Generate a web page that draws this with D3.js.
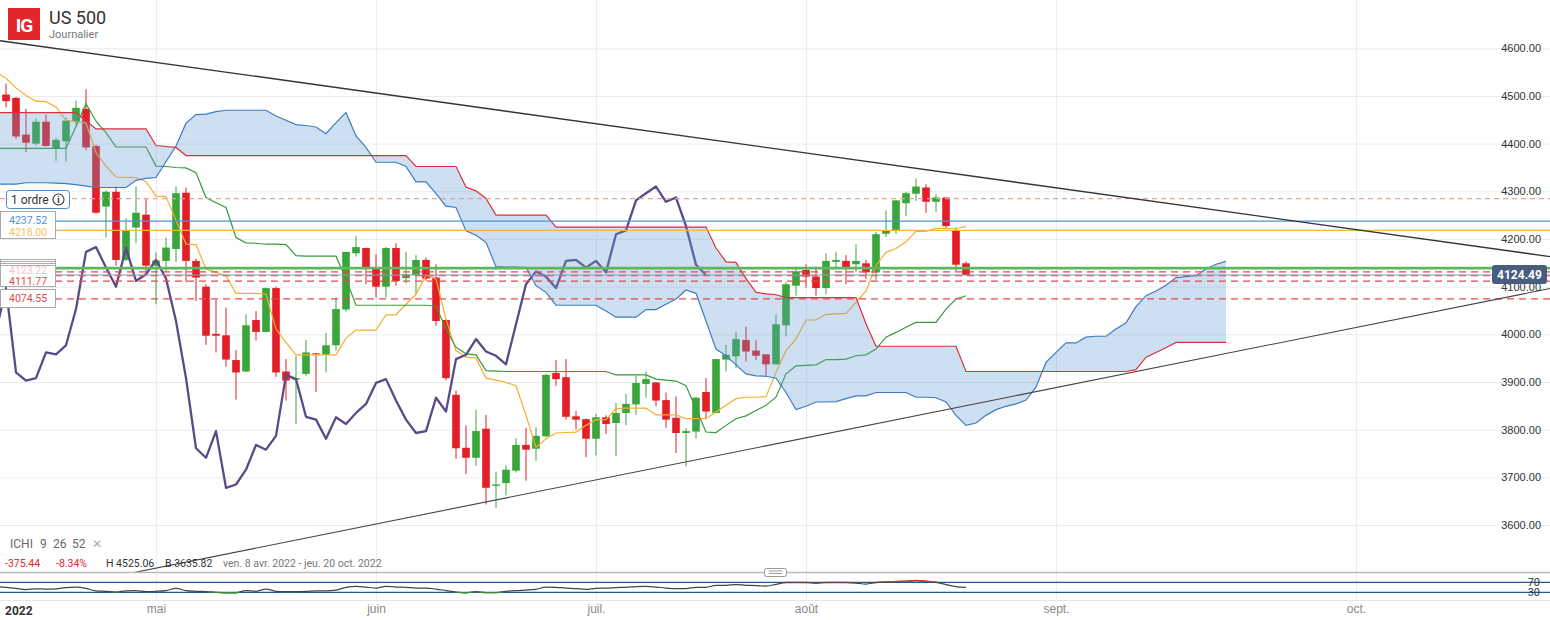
<!doctype html>
<html lang="fr">
<head>
<meta charset="UTF-8">
<title>US 500 | Journalier</title>
<style>
	body { margin: 0; background: #fff; font-family: Roboto, "Liberation Sans", Arial, sans-serif; }
	svg { display: block; }
	.grid line { stroke: #ececec; }
	.grid path { display: none; }
	.axis path, .axis line { display: none; }
	.price-axis text { fill: #333; font-size: 11px; }
	.month-axis text { fill: #888; font-size: 12px; }
</style>
</head>
<body>
<script src="https://cdn.jsdelivr.net/npm/d3@7"></script>
<script>
	// daily candles, index 0 = ven. 8 avr. 2022 (weekdays)
	var opens = [
		4503,4496,4419,4400,4446,4390,4405,4447,4473,4395,
		4268,4299,4156,4224,4251,4144,4154,4179,4297,4154,
		4100,4001,3998,3946,3922,4030,4005,4097,3922,3905,
		3917,3960,3957,3977,4052,4170,4181,4138,4100,4181,
		4118,4125,4156,4119,4030,3873,3762,3741,3802,3682,
		3688,3714,3768,3760,3786,3919,3910,3828,3822,3781,
		3826,3814,3835,3853,3896,3899,3862,3825,3793,3796,
		3879,3835,3947,3954,3988,3966,3958,3937,4019,4102,
		4135,4121,4097,4152,4154,4147,4149,4130,4211,4217,
		4275,4295,4308,4278,4287,4218,4149
	];
	var highs = [
		4526,4498,4473,4452,4461,4412,4455,4490,4514,4398,
		4302,4310,4243,4310,4285,4172,4203,4310,4308,4159,
		4105,4072,4056,3967,4042,4049,4098,4100,3948,3955,
		3988,3961,4003,4077,4173,4206,4182,4168,4183,4191,
		4173,4166,4161,4147,4031,3882,3809,3842,3831,3712,
		3725,3782,3804,3805,3917,3946,3948,3839,3823,3833,
		3830,3856,3875,3913,3922,3899,3878,3870,3803,3869,
		3908,3948,3978,4005,4016,3988,3958,4042,4110,4142,
		4147,4142,4170,4173,4166,4189,4156,4215,4260,4281,
		4299,4327,4315,4294,4287,4224,4153
	];
	var lows = [
		4476,4410,4382,4396,4394,4364,4362,4440,4386,4253,
		4203,4144,4153,4191,4130,4063,4133,4152,4109,4070,
		3978,3962,3932,3863,3921,3987,4004,3911,3861,3812,
		3913,3879,3920,3966,4048,4163,4105,4077,4077,4102,
		4107,4084,4112,4018,3903,3739,3707,3724,3643,3636,
		3662,3710,3693,3735,3785,3892,3821,3800,3742,3746,
		3791,3744,3809,3831,3867,3849,3804,3751,3723,3781,
		3823,3834,3922,3929,3943,3946,3913,3937,3996,4081,
		4098,4081,4084,4139,4105,4131,4116,4114,4204,4211,
		4248,4280,4255,4257,4222,4133,4124
	];
	var closes = [
		4489,4415,4402,4446,4395,4408,4448,4475,4392,4255,
		4299,4156,4219,4255,4144,4155,4182,4296,4154,4119,
		3997,3997,3947,3920,4019,4005,4097,3920,3903,3908,
		3962,3958,3977,4053,4173,4183,4140,4100,4181,4112,
		4126,4156,4117,4028,3908,3761,3741,3797,3678,3685,
		3716,3768,3758,3787,3915,3906,3827,3821,3781,3826,
		3812,3835,3854,3898,3906,3861,3821,3793,3797,3867,
		3838,3948,3957,3990,3964,3955,3937,4021,4105,4132,
		4121,4097,4154,4156,4140,4154,4130,4210,4218,4281,
		4296,4310,4278,4287,4227,4146,4124.49
	];

	// ichimoku lines, first value at index -1
	var ichiStart = -1;
	var tenkan = [
		4550,
		4537,4517,4501,4489,4488,4477,4449,4446,4443,4381,
		4353,4330,4329,4329,4320,4290,4289,4239,4189,4188,
		4137,4130,4123,4086,4086,4086,4084,4011,3983,3957,
		3957,3957,3957,3957,3992,4009,4009,4009,4041,4041,
		4063,4084,4124,4116,4032,3966,3952,3950,3908,3904,
		3899,3892,3830,3763,3781,3793,3794,3795,3809,3821,
		3821,3844,3845,3845,3845,3831,3831,3831,3823,3823,
		3823,3837,3851,3865,3868,3868,3869,3920,3966,3990,
		4030,4030,4042,4043,4044,4067,4091,4144,4172,4180,
		4194,4216,4216,4222,4222,4222,4226
	];
	var kijun = [
		4390,
		4390,4390,4390,4390,4390,4390,4390,4436,4484,4447,
		4423,4393,4393,4393,4393,4353,4352,4350,4349,4339,
		4287,4276,4266,4203,4192,4191,4189,4189,4188,4165,
		4164,4164,4164,4164,4116,4061,4061,4061,4061,4061,
		4061,4061,4061,4059,4011,3973,3959,3957,3924,3923,
		3922,3922,3922,3922,3922,3922,3922,3922,3922,3922,
		3922,3915,3915,3915,3915,3906,3904,3902,3892,3844,
		3795,3794,3809,3823,3829,3840,3851,3868,3917,3934,
		3935,3936,3947,3947,3948,3955,3957,3969,3994,4004,
		4015,4025,4025,4025,4053,4074,4081
	];
	var spanA = [
		4315,
		4315,4315,4318,4318,4318,4317,4316,4314,4311,4308,
		4308,4308,4308,4323,4327,4329,4362,4395,4443,4461,
		4462,4467,4470,4470,4470,4470,4470,4458,4449,4440,
		4438,4435,4421,4444,4465,4416,4392,4361,4361,4361,
		4352,4320,4320,4295,4269,4266,4217,4208,4193,4142,
		4141,4141,4140,4102,4088,4061,4061,4061,4061,4061,
		4049,4036,4036,4036,4052,4052,4063,4074,4093,4086,
		4028,3969,3955,3936,3917,3913,3912,3908,3878,3842,
		3849,3858,3858,3859,3865,3871,3871,3878,3878,3878,
		3878,3868,3868,3867,3858,3830,3809,3814,3830,3842,
		3849,3854,3862,3889,3941,3962,3982,3982,3994,3996,
		3996,4011,4024,4058,4081,4091,4103,4119,4121,4123,
		4137,4147,4153
	];
	var spanB = [
		4465,
		4465,4465,4465,4465,4465,4465,4465,4465,4448,4431,
		4431,4431,4431,4431,4431,4396,4394,4392,4375,4375,
		4375,4375,4375,4375,4375,4375,4375,4375,4375,4375,
		4375,4375,4375,4375,4375,4375,4375,4375,4375,4375,
		4375,4352,4352,4352,4352,4352,4309,4301,4285,4250,
		4250,4250,4250,4250,4250,4225,4225,4225,4225,4225,
		4225,4225,4225,4225,4225,4225,4225,4225,4225,4225,
		4225,4181,4152,4151,4117,4088,4085,4083,4077,4077,
		4077,4077,4077,4077,4077,4077,4022,3975,3975,3975,
		3975,3975,3975,3975,3975,3975,3922,3922,3922,3922,
		3922,3922,3922,3922,3922,3922,3922,3922,3922,3922,
		3922,3922,3922,3926,3952,3962,3972,3983,3983,3983,
		3983,3983,3983
	];
	var chikouShift = 26;

	// lower pane oscillator, first value at index -1
	var rsi = [
		53,
		50,46,41,44,43,44,49,51,46,36,
		34,31,36,37,33,34,37,46,37,34,
		33,30,28,28,37,34,43,34,33,33,
		34,36,36,39,50,54,51,47,54,51,
		50,47,47,43,37,31,28,33,29,29,
		34,37,39,42,51,50,47,45,42,46,
		47,49,50,53,54,51,47,45,45,50,
		50,58,58,61,58,57,55,62,69,69,
		69,66,69,69,69,67,63,69,71,73,
		74,77,74,70,61,53,50
	];

	// order / alert levels
	var levelOrder = 4284.5;
	var levelBlue = 4237.52;
	var levelOrange = 4218.00;
	var levelGreen = 4139;
	var levelsDashed = [4131, 4123.22, 4111.77, 4074.55];
	var lastPrice = 4124.49;

	// trend lines: [index, price]
	var upperTrend = [[-0.6, 4616], [154.4, 4163]];
	var lowerTrend = [[12.5, 3499], [154.4, 4096]];

	var priceTicks = [3600, 3700, 3800, 3900, 4000, 4100, 4200, 4300, 4400, 4500, 4600];
	var monthIdx = [15, 37, 59, 80, 105, 135];
	var monthLabels = ['mai', 'juin', 'juil.', 'août', 'sept.', 'oct.'];

	var w = 1550,
		h = 620,
		paneBottom = 572,
		axisTop = 600;

	var svg = d3.select('body')
		.append('svg')
		.attr('width', w)
		.attr('height', h);

	var xScale = d3.scaleLinear().domain([0, 154]).range([6, 1546]);
	var yScale = d3.scaleLinear().domain([3600, 4600]).range([525, 48.3]);
	var rsiScale = d3.scaleLinear().domain([30, 70]).range([592.3, 582.3]);

	var defs = svg.append('defs');
	defs.append('clipPath').attr('id', 'pane')
		.append('rect').attr('x', 0).attr('y', 0).attr('width', w).attr('height', paneBottom);
	defs.append('clipPath').attr('id', 'rsiHigh')
		.append('rect').attr('x', 0).attr('y', 560).attr('width', w).attr('height', rsiScale(70) - 560);
	defs.append('clipPath').attr('id', 'rsiLow')
		.append('rect').attr('x', 0).attr('y', rsiScale(30)).attr('width', w).attr('height', 10);

	// grid
	svg.append('g')
		.attr('class', 'grid')
		.call(d3.axisRight(yScale).tickValues(priceTicks).tickSize(w).tickFormat(''));
	svg.append('g')
		.attr('class', 'grid')
		.attr('transform', 'translate(0,' + axisTop + ')')
		.call(d3.axisTop(xScale).tickValues(monthIdx).tickSize(axisTop).tickFormat(''));

	var pane = svg.append('g').attr('clip-path', 'url(#pane)');

	var withIndex = function(arr, start) {
		return arr.map(function(v, k) { return [k + start, v]; });
	};
	var line = d3.line()
		.x(function(d) { return xScale(d[0]); })
		.y(function(d) { return yScale(d[1]); });

	// candles
	var candles = d3.range(closes.length).map(function(i) {
		return { i: i, o: opens[i], h: highs[i], l: lows[i], c: closes[i] };
	});
	var candle = pane.append('g').selectAll('g')
		.data(candles)
		.enter()
		.append('g');
	candle.append('line')
		.attr('x1', function(d) { return xScale(d.i); })
		.attr('x2', function(d) { return xScale(d.i); })
		.attr('y1', function(d) { return yScale(d.h); })
		.attr('y2', function(d) { return yScale(d.l); })
		.attr('stroke', function(d) { return d.c >= d.o ? '#3aa53a' : '#e21f26'; })
		.attr('stroke-width', 1);
	candle.append('rect')
		.attr('x', function(d) { return xScale(d.i) - 3.8; })
		.attr('width', 7.6)
		.attr('y', function(d) { return yScale(Math.max(d.o, d.c)); })
		.attr('height', function(d) { return Math.max(1.2, Math.abs(yScale(d.o) - yScale(d.c))); })
		.attr('fill', function(d) { return d.c >= d.o ? '#3aa53a' : '#e21f26'; });

	// tenkan, kijun, chikou
	pane.append('path')
		.attr('d', line(withIndex(tenkan, ichiStart)))
		.attr('fill', 'none').attr('stroke', '#f7ae2e').attr('stroke-width', 1.2);
	pane.append('path')
		.attr('d', line(withIndex(kijun, ichiStart)))
		.attr('fill', 'none').attr('stroke', '#3a9a3a').attr('stroke-width', 1.2);
	pane.append('path')
		.attr('d', line(withIndex(closes.slice(chikouShift + ichiStart), ichiStart)))
		.attr('fill', 'none').attr('stroke', '#5b4a88').attr('stroke-width', 2.3)
		.attr('stroke-linejoin', 'round');

	// cloud
	var cloud = spanA.map(function(a, k) { return { i: k + ichiStart, a: a, b: spanB[k] }; });
	pane.append('path')
		.attr('d', d3.area()
			.x(function(d) { return xScale(d.i); })
			.y0(function(d) { return yScale(d.b); })
			.y1(function(d) { return yScale(d.a); })(cloud))
		.attr('fill', 'rgb(99,155,208)')
		.attr('fill-opacity', 0.32);
	pane.append('path')
		.attr('d', line(withIndex(spanA, ichiStart)))
		.attr('fill', 'none').attr('stroke', '#3b7dc0').attr('stroke-width', 1.2);
	pane.append('path')
		.attr('d', line(withIndex(spanB, ichiStart)))
		.attr('fill', 'none').attr('stroke', '#d8323c').attr('stroke-width', 1.2);

	// levels
	var hLine = function(v, x0, color, width, dash) {
		pane.append('line')
			.attr('x1', x0).attr('x2', w)
			.attr('y1', yScale(v)).attr('y2', yScale(v))
			.attr('stroke', color)
			.attr('stroke-width', width)
			.attr('stroke-dasharray', dash || null);
	};
	hLine(levelOrder, 0, '#e6a3a3', 1.2, '5,4');
	hLine(levelBlue, 55, '#4b93d6', 1.1);
	hLine(levelOrange, 55, '#f7b53a', 1.1);
	levelsDashed.forEach(function(v) {
		hLine(v, 55, '#e8484c', 1.2, '7,5');
	});
	hLine(levelGreen, 55, '#5cb85c', 2.8);
	hLine(lastPrice, 55, '#8c9cb4', 1.2);

	// trend lines
	pane.append('path')
		.attr('d', line(upperTrend))
		.attr('stroke', '#333').attr('stroke-width', 1.4).attr('fill', 'none');
	pane.append('path')
		.attr('d', line(lowerTrend))
		.attr('stroke', '#444').attr('stroke-width', 1.1).attr('fill', 'none');

	// price axis labels
	svg.append('g')
		.attr('class', 'axis price-axis')
		.attr('transform', 'translate(1541,0)')
		.call(d3.axisLeft(yScale).tickValues(priceTicks).tickSize(0).tickPadding(0)
			.tickFormat(d3.format('.2f')))
		.selectAll('text').attr('text-anchor', 'end');

	// last price badge
	svg.append('rect')
		.attr('x', 1492).attr('y', yScale(lastPrice) - 10)
		.attr('width', 55).attr('height', 19).attr('rx', 3)
		.attr('fill', '#4a5d7e');
	svg.append('text')
		.attr('x', 1519.5).attr('y', yScale(lastPrice))
		.attr('dy', '0.35em')
		.attr('text-anchor', 'middle')
		.attr('fill', '#fff').attr('font-size', 12).attr('font-weight', 'bold')
		.text(d3.format('.2f')(lastPrice));

	// left level tags
	var tag = svg.append('g');
	tag.append('rect')
		.attr('x', 6.5).attr('y', 190.5).attr('width', 63).attr('height', 18).attr('rx', 3)
		.attr('fill', '#fff').attr('stroke', '#4a8ac2');
	tag.append('text')
		.attr('x', 11).attr('y', 203.5).attr('font-size', 12).attr('fill', '#333').text('1 ordre');
	tag.append('circle')
		.attr('cx', 58.5).attr('cy', 199.5).attr('r', 5.5)
		.attr('fill', 'none').attr('stroke', '#333').attr('stroke-width', 1.1);
	tag.append('text')
		.attr('x', 58.5).attr('y', 202.8).attr('text-anchor', 'middle')
		.attr('font-size', 9).attr('font-weight', 'bold').attr('fill', '#333').text('i');

	tag.append('rect')
		.attr('x', 0.5).attr('y', 211.5).attr('width', 55).attr('height', 27)
		.attr('fill', '#fff').attr('stroke', '#aaa');
	tag.append('text')
		.attr('x', 9).attr('y', yScale(levelBlue) - 1).attr('dy', '0.35em')
		.attr('font-size', 10.5).attr('fill', '#4b93d6').text(d3.format('.2f')(levelBlue));
	tag.append('text')
		.attr('x', 9).attr('y', yScale(levelOrange) + 1.5).attr('dy', '0.35em')
		.attr('font-size', 10.5).attr('fill', '#f7be5a').text(d3.format('.2f')(levelOrange));

	[259.5, 261.5, 263.5].forEach(function(ty) {
		tag.append('rect')
			.attr('x', 0.5).attr('y', ty).attr('width', 55).attr('height', 22)
			.attr('fill', '#fff').attr('stroke', '#aaa');
	});
	tag.append('rect')
		.attr('x', 0.5).attr('y', 265.5).attr('width', 55).attr('height', 21)
		.attr('fill', '#fff').attr('stroke', '#aaa');
	tag.append('text')
		.attr('x', 9).attr('y', 270.5).attr('dy', '0.35em')
		.attr('font-size', 10.5).attr('fill', '#f4c4c4').text(d3.format('.2f')(levelsDashed[1]));
	tag.append('text')
		.attr('x', 9).attr('y', yScale(levelsDashed[2]) + 0.5).attr('dy', '0.35em')
		.attr('font-size', 10.5).attr('fill', '#e2474b').text(d3.format('.2f')(levelsDashed[2]));
	tag.append('rect')
		.attr('x', 0.5).attr('y', 289.5).attr('width', 55).attr('height', 18)
		.attr('fill', '#fff').attr('stroke', '#aaa');
	tag.append('text')
		.attr('x', 9).attr('y', yScale(levelsDashed[3])).attr('dy', '0.35em')
		.attr('font-size', 10.5).attr('fill', '#e2474b').text(d3.format('.2f')(levelsDashed[3]));

	// header
	svg.append('rect')
		.attr('x', 8).attr('y', 8).attr('width', 32).attr('height', 32).attr('fill', '#e3262b');
	svg.append('text')
		.attr('x', 24).attr('y', 31.5).attr('text-anchor', 'middle')
		.attr('fill', '#fff').attr('font-size', 19).attr('font-weight', 'bold')
		.attr('letter-spacing', -1).text('IG');
	svg.append('text')
		.attr('x', 49).attr('y', 24).attr('font-size', 18).attr('fill', '#333').text('US 500');
	svg.append('text')
		.attr('x', 49).attr('y', 38).attr('font-size', 11).attr('fill', '#777').text('Journalier');

	// indicator legend and stats
	var legend = [['ICHI', 10], ['9', 40], ['26', 53], ['52', 72]];
	legend.forEach(function(d) {
		svg.append('text')
			.attr('x', d[1]).attr('y', 548).attr('font-size', 12).attr('fill', '#666').text(d[0]);
	});
	svg.append('text')
		.attr('x', 92).attr('y', 548).attr('font-size', 12).attr('fill', '#aaa').text('✕');

	var stats = [
		['-375.44', 5, '#e2262b'],
		['-8.34%', 56, '#e2262b'],
		['H 4525.06', 106, '#333'],
		['B 3635.82', 165, '#333'],
		['ven. 8 avr. 2022 - jeu. 20 oct. 2022', 223, '#777']
	];
	stats.forEach(function(d) {
		svg.append('text')
			.attr('x', d[1]).attr('y', 567).attr('font-size', 10.5).attr('fill', d[2]).text(d[0]);
	});

	// pane separator and handle
	svg.append('line')
		.attr('x1', 0).attr('x2', w).attr('y1', paneBottom + 0.5).attr('y2', paneBottom + 0.5)
		.attr('stroke', '#bbb').attr('stroke-width', 1.5);
	svg.append('rect')
		.attr('x', 764.5).attr('y', 568.5).attr('width', 22).attr('height', 8).attr('rx', 2)
		.attr('fill', '#fff').attr('stroke', '#999');
	[571, 573.5].forEach(function(ly) {
		svg.append('line')
			.attr('x1', 769).attr('x2', 782).attr('y1', ly).attr('y2', ly)
			.attr('stroke', '#999').attr('stroke-width', 1);
	});

	// oscillator pane
	[70, 30].forEach(function(v) {
		svg.append('line')
			.attr('x1', 0).attr('x2', w).attr('y1', rsiScale(v)).attr('y2', rsiScale(v))
			.attr('stroke', '#1f5b94').attr('stroke-width', 1.3);
		svg.append('text')
			.attr('x', 1540).attr('y', rsiScale(v)).attr('dy', '0.35em')
			.attr('text-anchor', 'end').attr('font-size', 11).attr('fill', '#333')
			.text(v);
	});
	var rsiLine = d3.line()
		.x(function(d) { return xScale(d[0]); })
		.y(function(d) { return rsiScale(d[1]); })
		.curve(d3.curveMonotoneX);
	var rsiPath = rsiLine(withIndex(rsi, ichiStart));
	svg.append('path').attr('d', rsiPath)
		.attr('fill', 'none').attr('stroke', '#444').attr('stroke-width', 1.2);
	svg.append('path').attr('d', rsiPath).attr('clip-path', 'url(#rsiHigh)')
		.attr('fill', 'none').attr('stroke', '#e8262b').attr('stroke-width', 1.4);
	svg.append('path').attr('d', rsiPath).attr('clip-path', 'url(#rsiLow)')
		.attr('fill', 'none').attr('stroke', '#3aa53a').attr('stroke-width', 1.4);

	// time axis
	svg.append('line')
		.attr('x1', 0).attr('x2', w).attr('y1', axisTop + 0.5).attr('y2', axisTop + 0.5)
		.attr('stroke', '#e4e4e4');
	svg.append('g')
		.attr('class', 'axis month-axis')
		.attr('transform', 'translate(0,' + axisTop + ')')
		.call(d3.axisBottom(xScale).tickValues(monthIdx).tickSize(0).tickPadding(4)
			.tickFormat(function(d, i) { return monthLabels[i]; }));
	svg.append('text')
		.attr('x', 5).attr('y', 615).attr('font-size', 12).attr('font-weight', 'bold')
		.attr('fill', '#333').text('2022');
</script>
</body>
</html>
